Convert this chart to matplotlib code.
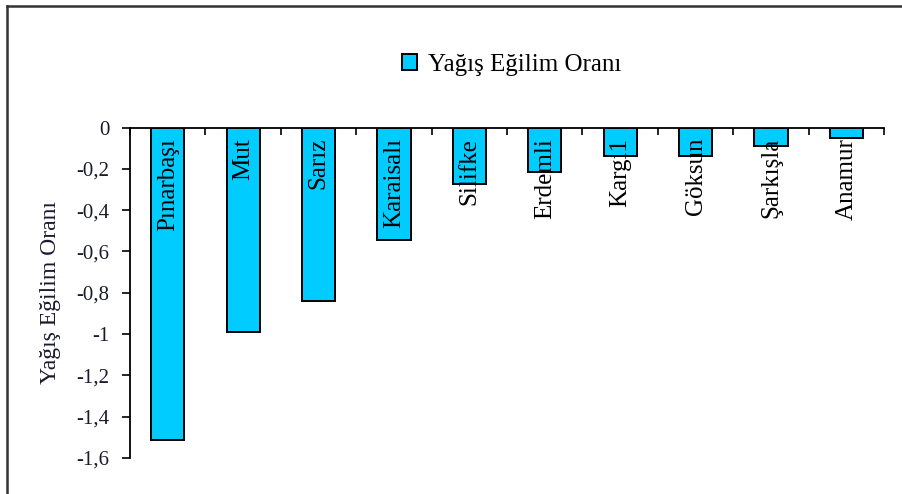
import matplotlib
matplotlib.use("Agg")
import matplotlib.pyplot as plt
from matplotlib.lines import Line2D
from matplotlib.patches import Patch

stations = ["Pınarbaşı", "Mut", "Sarız", "Karaisalı", "Silifke",
            "Erdemli", "Kargı1", "Göksun", "Şarkışla", "Anamur"]
trend = [-1.513, -0.988, -0.84, -0.545, -0.273,
         -0.214, -0.137, -0.137, -0.09, -0.051]
yticks = [0, -0.2, -0.4, -0.6, -0.8, -1, -1.2, -1.4, -1.6]
ytick_labels = ["0", "-0,2", "-0,4", "-0,6", "-0,8", "-1", "-1,2", "-1,4", "-1,6"]
series_name = "Yağış Eğilim Oranı"

serif = ["Liberation Serif", "DejaVu Serif"]
plt.rcParams["font.family"] = serif

fig = plt.figure(figsize=(9.03, 4.94), dpi=100)
ax = fig.add_axes([0.144, 0.0729, 0.835, 0.669])

x = list(range(len(stations)))
ax.bar(x, trend, width=0.44, color="#00CCFF", edgecolor="black", linewidth=1.4,
       zorder=2)

for xi, name in zip(x, stations):
    ax.text(xi, -0.05, name, rotation=90, ha="center", va="top",
            fontsize=18, color="black", zorder=3)

ax.set_xlim(-0.5, len(stations) - 0.5)
ax.set_ylim(-1.6, 0)
ax.set_yticks(yticks)
ax.set_yticklabels(ytick_labels, fontsize=15, color="#1a1a2e")
ax.set_xticks([b - 0.5 for b in range(len(stations) + 1)])
ax.tick_params(axis="x", top=True, bottom=False, direction="in",
               labeltop=False, labelbottom=False, length=5, width=1.2)
ax.tick_params(axis="y", direction="out", length=6, width=1.2, pad=9)

for side in ("right", "bottom"):
    ax.spines[side].set_visible(False)
for side in ("left", "top"):
    ax.spines[side].set_linewidth(1.3)

ax.set_ylabel(series_name, fontsize=17, color="#1a1a2e", labelpad=11)

handle = Patch(facecolor="#00CCFF", edgecolor="black", linewidth=1.4)
fig.legend([handle], [series_name], loc="center", bbox_to_anchor=(0.567, 0.868),
           frameon=False, fontsize=18, handlelength=0.6, handleheight=0.6,
           handletextpad=0.45)

# outer chart frame
W, H = 903, 494
fig.add_artist(Line2D([7 / W, 7 / W], [1 - 6 / H, 0], color="#333333",
                      linewidth=1.8, transform=fig.transFigure))
fig.add_artist(Line2D([7 / W, 1], [1 - 6 / H, 1 - 6 / H], color="#333333",
                      linewidth=1.8, transform=fig.transFigure))

fig.savefig("out.png", dpi=100)
